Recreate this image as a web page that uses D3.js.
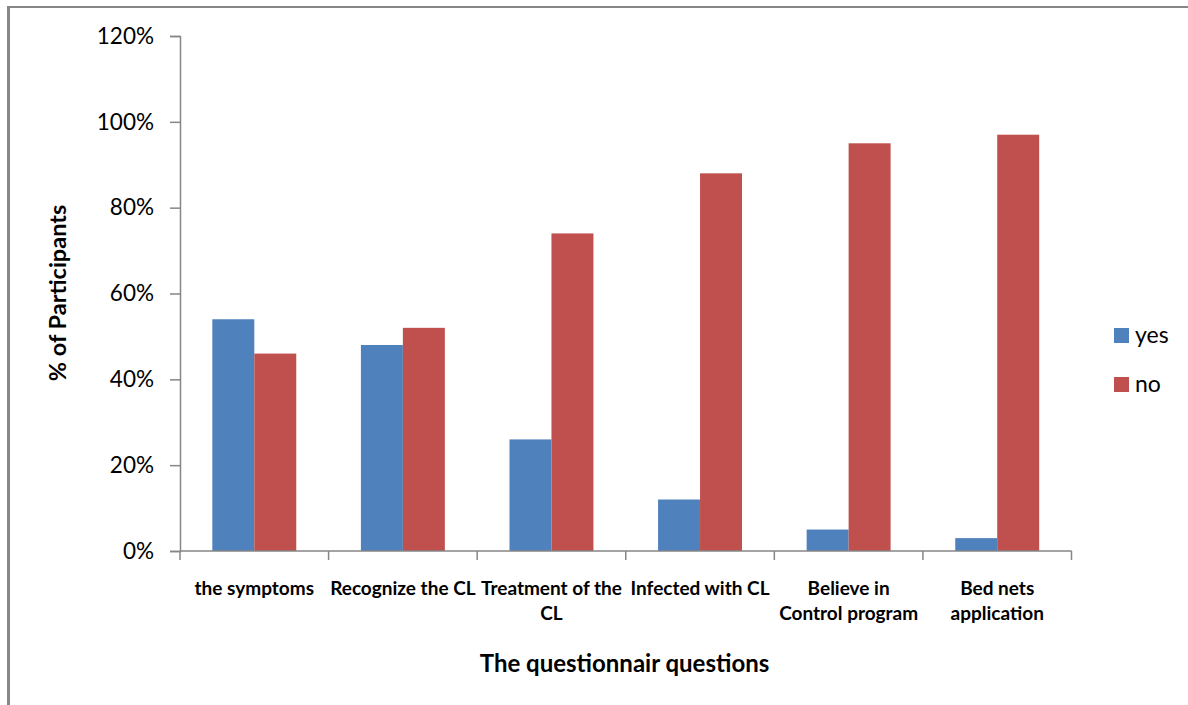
<!DOCTYPE html>
<html>
<head>
<meta charset="utf-8">
<script src="https://cdn.jsdelivr.net/npm/d3@7"></script>
<style>
  html, body { margin: 0; padding: 0; background: #fff; }
  svg { display: block; font-family: Lato, "Open Sans", sans-serif; }
</style>
</head>
<body>
<svg id="chart" width="1188" height="705"></svg>
<script>
// Survey answers per question, as share of participants (%)
const categories = [
  "the symptoms",
  "Recognize the CL",
  "Treatment of the CL",
  "Infected with CL",
  "Believe in Control program",
  "Bed nets application"
];
// How each category label breaks across lines
const categoryLines = [
  ["the symptoms"],
  ["Recognize the CL"],
  ["Treatment of the", "CL"],
  ["Infected with CL"],
  ["Believe in", "Control program"],
  ["Bed nets", "application"]
];
const seriesNames = ["yes", "no"];
const yesValues = [54, 48, 26, 12, 5, 3];
const noValues  = [46, 52, 74, 88, 95, 97];
const yTicks = [0, 20, 40, 60, 80, 100, 120];

const colors = { yes: "#4F81BD", no: "#C0504D" };

const svg = d3.select("#chart");

// Outer frame (top and left edges)
svg.append("line").attr("x1", 8.5).attr("x2", 1188).attr("y1", 7).attr("y2", 7)
  .attr("stroke", "#878787").attr("stroke-width", 2);
svg.append("line").attr("x1", 8.5).attr("x2", 8.5).attr("y1", 6).attr("y2", 705)
  .attr("stroke", "#878787").attr("stroke-width", 3);

const plot = { left: 180, right: 1071.5, top: 36, bottom: 551 };

const x = d3.scaleBand()
  .domain(categories)
  .range([plot.left, plot.right])
  .paddingInner(0)
  .paddingOuter(0);

const inner = d3.scaleBand()
  .domain(seriesNames)
  .range([0, x.bandwidth()])
  .paddingOuter(0.77)
  .paddingInner(0);

const y = d3.scaleLinear().domain([0, 120]).range([plot.bottom, plot.top]);

const rows = categories.map((c, i) => ({ cat: c, yes: yesValues[i], no: noValues[i] }));

// Bars
const groups = svg.append("g").selectAll("g")
  .data(rows).join("g")
  .attr("transform", d => `translate(${x(d.cat)},0)`);

groups.selectAll("rect")
  .data(d => seriesNames.map(s => ({ s, v: d[s] })))
  .join("rect")
  .attr("x", d => inner(d.s))
  .attr("width", inner.bandwidth())
  .attr("y", d => y(d.v))
  .attr("height", d => y(0) - y(d.v))
  .attr("fill", d => colors[d.s]);

// Y axis
const yAxis = svg.append("g")
  .attr("transform", `translate(${plot.left},0)`)
  .call(d3.axisLeft(y).tickValues(yTicks).tickFormat(d => d + "%").tickSize(10).tickPadding(16));
yAxis.select(".domain").attr("stroke", "#868686").attr("stroke-width", 1.5);
yAxis.selectAll(".tick line").attr("stroke", "#868686").attr("stroke-width", 1.5);
yAxis.selectAll(".tick text")
  .attr("font-family", "Lato, sans-serif")
  .attr("font-size", 22.5)
  .attr("fill", "#000");

// X axis baseline with category separators
const xAxis = svg.append("g")
  .attr("transform", `translate(0,${plot.bottom})`);
xAxis.append("line")
  .attr("x1", plot.left).attr("x2", plot.right)
  .attr("stroke", "#868686").attr("stroke-width", 1.5);
const boundaries = categories.map(c => x(c)).concat([plot.right]);
xAxis.selectAll("line.sep")
  .data(boundaries).join("line")
  .attr("class", "sep")
  .attr("x1", d => d).attr("x2", d => d)
  .attr("y1", 0).attr("y2", 9)
  .attr("stroke", "#868686").attr("stroke-width", 1.5);

// Category labels
const catLabels = svg.append("g")
  .attr("font-family", "Lato, sans-serif")
  .attr("font-size", 19)
  .attr("font-weight", "bold")
  .attr("text-anchor", "middle")
  .attr("fill", "#000");
categories.forEach((c, i) => {
  const t = catLabels.append("text")
    .attr("x", x(c) + x.bandwidth() / 2)
    .attr("y", 595);
  categoryLines[i].forEach((line, j) => {
    t.append("tspan")
      .attr("x", x(c) + x.bandwidth() / 2)
      .attr("dy", j === 0 ? 0 : 25)
      .text(line);
  });
});

// Axis titles
svg.append("text")
  .attr("transform", `translate(66,293) rotate(-90)`)
  .attr("text-anchor", "middle")
  .attr("font-family", "Lato, sans-serif")
  .attr("font-size", 23.5)
  .attr("font-weight", "bold")
  .attr("fill", "#000")
  .text("% of Participants");

svg.append("text")
  .attr("x", 624.5)
  .attr("y", 672)
  .attr("text-anchor", "middle")
  .attr("font-family", "Lato, sans-serif")
  .attr("font-size", 24)
  .attr("font-weight", "bold")
  .attr("fill", "#000")
  .text("The questionnair questions");

// Legend
const legend = svg.append("g").attr("transform", "translate(1114,328)");
const items = legend.selectAll("g")
  .data(seriesNames).join("g")
  .attr("transform", (d, i) => `translate(0,${i * 49})`);
items.append("rect")
  .attr("width", 15).attr("height", 15)
  .attr("fill", d => colors[d]);
items.append("text")
  .attr("x", 21).attr("y", 15)
  .attr("font-family", "Lato, sans-serif")
  .attr("font-size", 23)
  .attr("fill", "#000")
  .text(d => d);
</script>
</body>
</html>
